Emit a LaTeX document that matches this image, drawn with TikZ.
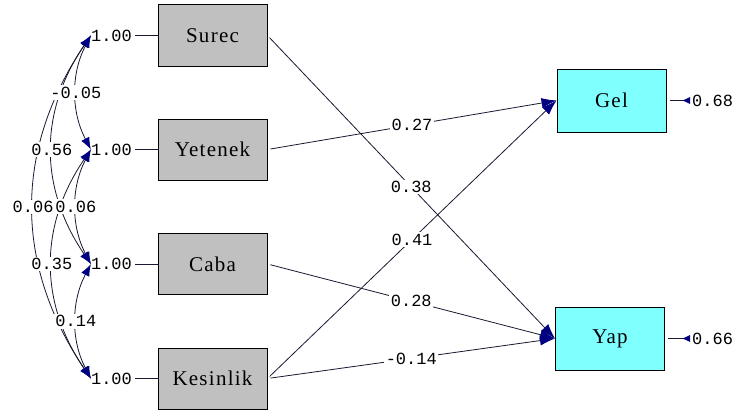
\documentclass[tikz,border=0pt]{standalone}
\usepackage{fontspec}
\setmainfont{Liberation Serif}
\newfontfamily\numfont{Liberation Mono}
\newfontfamily\boxfont[LetterSpace=6]{Liberation Serif}
\usetikzlibrary{arrows.meta}

\definecolor{boxgray}{RGB}{192,192,192}
\definecolor{boxcyan}{RGB}{128,255,255}
\definecolor{headblue}{RGB}{0,0,128}
\definecolor{linecol}{RGB}{25,25,50}

\begin{document}
\begin{tikzpicture}[x=1pt, y=-1pt,
    obs/.style={draw=black, line width=1pt, fill=boxgray, minimum width=109pt,
        minimum height=61pt, inner sep=0pt, font=\boxfont\fontsize{21}{21}\selectfont},
    endo/.style={obs, fill=boxcyan, minimum height=63pt},
    num/.style={font=\numfont\fontsize{17}{17}\selectfont, inner sep=0pt},
    coef/.style={num, fill=white, inner sep=1.5pt},
    effect/.style={draw=linecol, line width=0.8pt, shorten <=3pt,
        -{Latex[length=15pt,width=10pt,color=headblue]}},
    covar/.style={draw=linecol, line width=0.8pt,
        {Latex[length=12pt,width=9pt,color=headblue]}-{Latex[length=12pt,width=9pt,color=headblue]}},
    varline/.style={draw=linecol, line width=0.8pt, shorten <=3pt}
]

    \useasboundingbox[fill=white] (0,0) rectangle (738,412);

    % observed variables
    \node[obs] (surec) at (212.5,35.5) {Surec};
    \node[obs] (yetenek) at (212.5,149.5) {Yetenek};
    \node[obs] (caba) at (212.5,264) {Caba};
    \node[obs] (kesinlik) at (212.5,378.5) {Kesinlik};

    \node[endo] (gel) at (611.5,100.5) {Gel};
    \node[endo] (yap) at (610,338.5) {Yap};

    % variances
    \node[num] (v1) at (111.5,35.5) {1.00};
    \node[num] (v2) at (111.5,149.5) {1.00};
    \node[num] (v3) at (111.5,264) {1.00};
    \node[num] (v4) at (111.5,378.5) {1.00};

    \draw[varline] (v1) -- (surec);
    \draw[varline] (v2) -- (yetenek);
    \draw[varline] (v3) -- (caba);
    \draw[varline] (v4) -- (kesinlik);

    % covariances
    \draw[covar] (v1.west) .. controls +(-77,114) and +(-77,-114) .. node[coef] {0.06} (v4.west);
    \draw[covar] (v1.west) .. controls +(-52,76) and +(-52,-76) .. node[coef] {0.56} (v3.west);
    \draw[covar] (v2.west) .. controls +(-52,76) and +(-52,-76) .. node[coef] {0.35} (v4.west);
    \draw[covar] (v1.west) .. controls +(-20,38) and +(-20,-38) .. node[coef] {-0.05} (v2.west);
    \draw[covar] (v2.west) .. controls +(-20,38) and +(-20,-38) .. node[coef] {0.06} (v3.west);
    \draw[covar] (v3.west) .. controls +(-20,38) and +(-20,-38) .. node[coef] {0.14} (v4.west);

    % effects
    \draw[effect] (surec.east) -- node[coef] {0.38} (yap.west);
    \draw[effect] (yetenek.east) -- node[coef] {0.27} (gel.west);
    \draw[effect] (caba.east) -- node[coef] {0.28} (yap.west);
    \draw[effect] (kesinlik.east) -- node[coef] {0.41} (gel.west);
    \draw[effect] (kesinlik.east) -- node[coef] {-0.14} (yap.west);

    % errors
    \node[num, anchor=west] (e1) at (692,100.5) {0.68};
    \node[num, anchor=west] (e2) at (692,338.5) {0.66};

    \draw[varline, shorten >=2pt, -{Latex[reversed,length=8pt,width=7pt,color=headblue]}] (gel.east) -- (e1.west);
    \draw[varline, shorten >=2pt, -{Latex[reversed,length=8pt,width=7pt,color=headblue]}] (yap.east) -- (e2.west);

\end{tikzpicture}
\end{document}
